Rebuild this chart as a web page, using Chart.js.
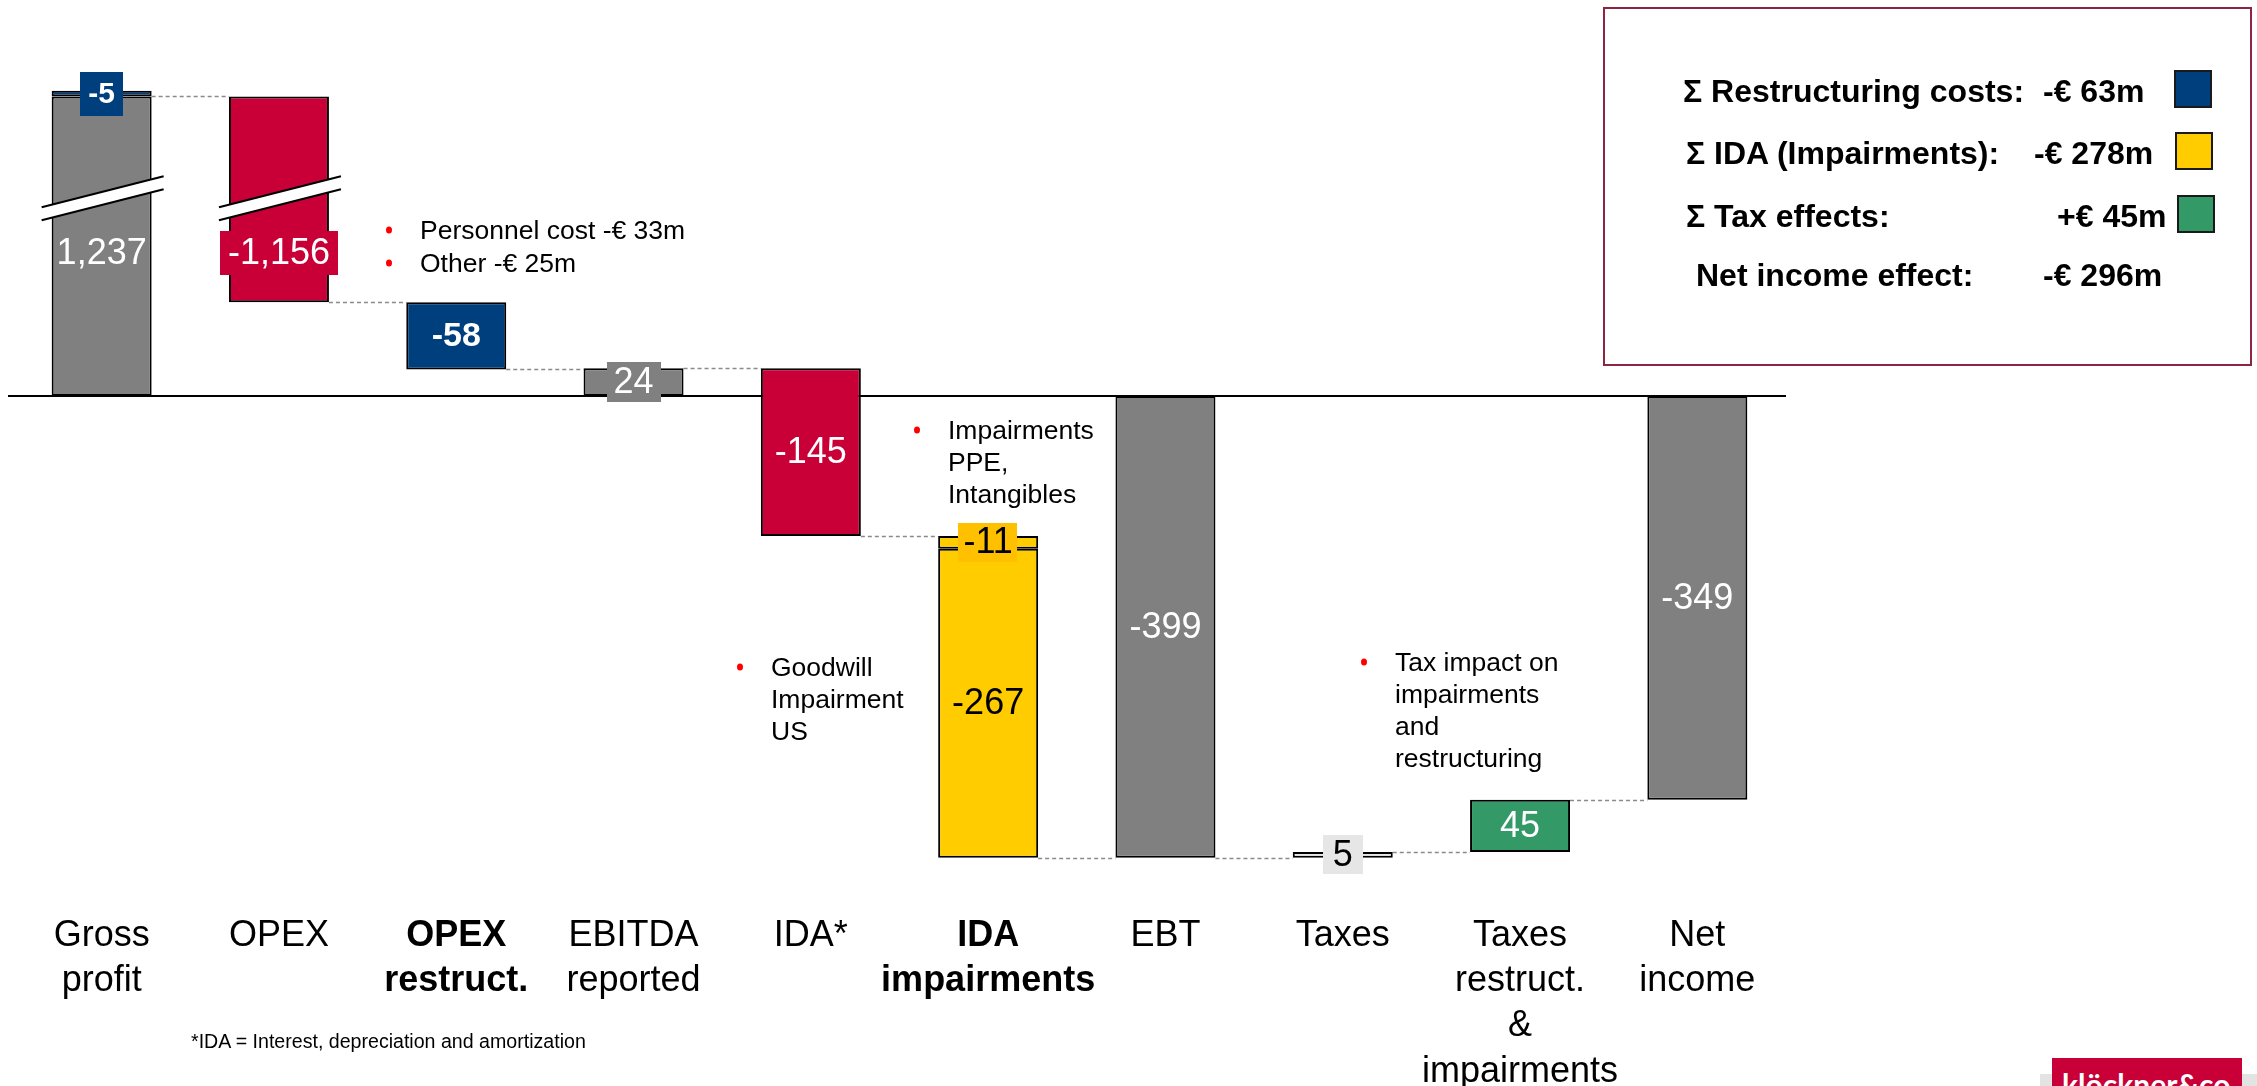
<!DOCTYPE html>
<html>
<head>
<meta charset="utf-8">
<title>Net income bridge</title>
<script src="https://cdn.jsdelivr.net/npm/chart.js@4.4.1/dist/chart.umd.min.js"></script>
<style>
  html, body { margin: 0; padding: 0; background: #ffffff; overflow: hidden; }
  #wrap { position: relative; width: 2257px; height: 1086px; font-family: "Liberation Sans", Arial, sans-serif; }
  #chart { position: absolute; left: 0; top: 0; }
  #summary { position: absolute; left: 1603px; top: 7px; width: 649px; height: 359px; border: 2px solid #8E2444; box-sizing: border-box; }
  #summary .lbl, #summary .val { position: absolute; font-weight: bold; font-size: 32px; color: #000; white-space: nowrap; line-height: 1; transform: translateY(-50%); }
  #summary .sw { position: absolute; width: 38px; height: 38px; border: 2px solid #1a1a1a; box-sizing: border-box; }
  #footnote { position: absolute; left: 191px; top: 1041px; transform: translateY(-50%); font-size: 19.6px; color: #000; white-space: nowrap; }
  #logo-strip { position: absolute; left: 2040px; top: 1074px; width: 217px; height: 12px; background: #E3E3E3; }
  #logo { position: absolute; left: 2052px; top: 1058px; width: 190px; height: 40px; background: #C80037; box-sizing: border-box; overflow: hidden; }
  #logo span { position: absolute; left: 10px; top: 11px; color: #fff; font-family: Lato, "Open Sans", sans-serif; font-weight: bold; font-size: 30px; line-height: 1; white-space: nowrap; }
</style>
</head>
<body>
<div id="wrap">
  <canvas id="chart" width="2257" height="1086"></canvas>
  <div id="summary"></div>
  <div id="footnote">*IDA = Interest, depreciation and amortization</div>
  <div id="logo-strip"></div>
  <div id="logo"><span id="logo-text">klöckner&amp;co</span></div>
</div>
<script>
// ---- data -------------------------------------------------------------
const categories = [
  ['Gross', 'profit'], 'OPEX', ['OPEX', 'restruct.'], ['EBITDA', 'reported'], 'IDA*',
  ['IDA', 'impairments'], 'EBT', 'Taxes', ['Taxes', 'restruct.', '&', 'impairments'], ['Net', 'income']
];
// value of each step (totals are absolute levels, the rest are changes), EUR m
const stepValues = [1237, -1156, -58, 24, -145, -267, -399, 5, 45, -349];
const isTotal    = [true, false, false, true, false, false, true, false, false, true];
// separately shown portion inside a step (restructuring in gross profit, impairments PPE/intangibles)
const subValues  = [-5, null, null, null, null, -11, null, null, null, null];
const boldCategories = [2, 5];

const summaryLabels = ['Σ Restructuring costs:', 'Σ IDA (Impairments):', 'Σ Tax effects:', 'Net income effect:'];
const summaryValues = ['-€ 63m', '-€ 278m', '+€ 45m', '-€ 296m'];

const notes = [
  { lines: ['Personnel cost -€ 33m'] },
  { lines: ['Other -€ 25m'] },
  { lines: ['Impairments', 'PPE,', 'Intangibles'] },
  { lines: ['Goodwill', 'Impairment', 'US'] },
  { lines: ['Tax impact on', 'impairments', 'and', 'restructuring'] }
];

// ---- styling ----------------------------------------------------------
const FONT = '"Liberation Sans", Arial, sans-serif';
const GREY = '#808080', RED = '#C80037', BLUE = '#003F7E', YELLOW = '#FFCC00', GREEN = '#339966', LIGHT = '#E6E6E6';
const barColors = [GREY, RED, BLUE, GREY, RED, YELLOW, GREY, LIGHT, GREEN, GREY];
const subColors = [BLUE, null, null, null, null, YELLOW, null, null, null, null];
const summaryColors = [BLUE, YELLOW, GREEN, null];

// label look per step: text colour, optional box colour, weight, size
const barLabelStyle = [
  { color: '#fff', size: 36 },
  { color: '#fff', size: 36, box: RED, padX: 8, boxH: 44 },
  { color: '#fff', size: 34, bold: true },
  { color: '#fff', size: 36, box: GREY, padX: 7, boxH: 40 },
  { color: '#fff', size: 36 },
  { color: '#000', size: 36 },
  { color: '#fff', size: 36 },
  { color: '#000', size: 36, box: LIGHT, padX: 10, boxH: 39 },
  { color: '#fff', size: 36 },
  { color: '#fff', size: 36 }
];
const subLabelStyle = [
  { color: '#fff', size: 30, bold: true, box: BLUE, padX: 8, boxH: 44 },
  null, null, null, null,
  { color: '#000', size: 36, box: '#FFC000', padX: 5, boxH: 39 },
  null, null, null, null
];

// axis break: the part of the axis between BREAK_AT and BREAK_AT + BREAK_GAP is cut out
const BREAK_AT = 171;
const BREAK_GAP = 978;
const BROKEN_LABEL_AT = 124;   // axis level where labels of broken bars sit
const toAxis = v => (v > BREAK_AT + BREAK_GAP ? v - BREAK_GAP : v);

// note placement (pixels)
const notePos = [
  { bx: 389, tx: 420, y: 232 },
  { bx: 389, tx: 420, y: 265 },
  { bx: 917, tx: 948, y: 432 },
  { bx: 740, tx: 771, y: 669 },
  { bx: 1364, tx: 1395, y: 664 }
];
const NOTE_LINE = 32;

// ---- waterfall spans --------------------------------------------------
const mainSpans = [], subSpans = [], runEnd = [];
let run = 0;
stepValues.forEach((v, i) => {
  const s = subValues[i];
  if (isTotal[i]) {
    mainSpans.push([0, v]);
    subSpans.push(s == null ? null : [v - s, v]);   // amount already deducted, shown on top of the total
    run = v;
  } else {
    if (s != null) { subSpans.push([run, run + s]); run += s; } else subSpans.push(null);
    mainSpans.push([run, run + v]);
    run += v;
  }
  runEnd.push(run);
});
const axisSpan = sp => (sp ? [toAxis(sp[0]), toAxis(sp[1])] : null);

const fmt = v => (v < 0 ? '-' : '') + Math.abs(v).toLocaleString('en-US');

function drawTag(ctx, text, cx, cy, st) {
  ctx.font = (st.bold ? 'bold ' : '') + st.size + 'px ' + FONT;
  const w = ctx.measureText(text).width;
  if (st.box) {
    const bw = w + 2 * st.padX;
    ctx.fillStyle = st.box;
    ctx.fillRect(Math.round(cx - bw / 2), Math.round(cy - st.boxH / 2), Math.round(bw), st.boxH);
  }
  ctx.fillStyle = st.color;
  ctx.textAlign = 'center';
  ctx.textBaseline = 'middle';
  ctx.fillText(text, cx, cy + 1);
}

const bridgeDecor = {
  id: 'bridgeDecor',
  beforeDatasetsDraw(chart) {
    const { ctx, chartArea, scales: { y } } = chart;
    const main = chart.getDatasetMeta(0).data;
    ctx.save();
    // zero line
    const y0 = Math.round(y.getPixelForValue(0));
    ctx.strokeStyle = '#000';
    ctx.lineWidth = 2;
    ctx.beginPath();
    ctx.moveTo(chartArea.left - 5, y0);
    ctx.lineTo(chartArea.right, y0);
    ctx.stroke();
    // dashed connectors between consecutive steps
    ctx.strokeStyle = '#8a8a8a';
    ctx.lineWidth = 1.5;
    ctx.setLineDash([4, 3]);
    for (let i = 0; i < main.length - 1; i++) {
      const a = main[i], b = main[i + 1];
      const yy = Math.round(y.getPixelForValue(toAxis(runEnd[i]))) + 0.5;
      ctx.beginPath();
      ctx.moveTo(a.x + a.width / 2, yy);
      ctx.lineTo(b.x - b.width / 2, yy);
      ctx.stroke();
    }
    ctx.restore();
  },
  afterDatasetsDraw(chart) {
    const { ctx, scales: { y } } = chart;
    const main = chart.getDatasetMeta(0).data;
    const sub = chart.getDatasetMeta(1).data;
    ctx.save();
    // break marks on bars crossing the cut
    mainSpans.forEach((sp, i) => {
      const lo = Math.min(sp[0], sp[1]), hi = Math.max(sp[0], sp[1]);
      if (!(lo < BREAK_AT && hi > BREAK_AT + BREAK_GAP)) return;
      const bar = main[i];
      const xl = bar.x - bar.width / 2 - 10, xr = bar.x + bar.width / 2 + 12;
      const yc = y.getPixelForValue(BREAK_AT);
      const rise = 31 * 0.5, half = 6.5;
      const cxm = (xl + xr) / 2;
      const yAt = (xx, off) => yc + off + rise * (cxm - xx) / ((xr - xl) / 2);
      ctx.fillStyle = '#fff';
      ctx.beginPath();
      ctx.moveTo(xl, yAt(xl, -half)); ctx.lineTo(xr, yAt(xr, -half));
      ctx.lineTo(xr, yAt(xr, half)); ctx.lineTo(xl, yAt(xl, half));
      ctx.closePath();
      ctx.fill();
      ctx.strokeStyle = '#000';
      ctx.lineWidth = 2;
      [-half, half].forEach(off => {
        ctx.beginPath();
        ctx.moveTo(xl, yAt(xl, off));
        ctx.lineTo(xr, yAt(xr, off));
        ctx.stroke();
      });
    });
    // value labels
    stepValues.forEach((v, i) => {
      const sp = mainSpans[i];
      const lo = Math.min(sp[0], sp[1]), hi = Math.max(sp[0], sp[1]);
      const broken = lo < BREAK_AT && hi > BREAK_AT + BREAK_GAP;
      const a = axisSpan(sp);
      const cy = broken ? y.getPixelForValue(BROKEN_LABEL_AT) : y.getPixelForValue((a[0] + a[1]) / 2);
      drawTag(ctx, fmt(v), main[i].x, cy, barLabelStyle[i]);
      if (subValues[i] != null) {
        const s = axisSpan(subSpans[i]);
        drawTag(ctx, fmt(subValues[i]), sub[i].x, y.getPixelForValue((s[0] + s[1]) / 2), subLabelStyle[i]);
      }
    });
    // bullet notes
    notes.forEach((n, k) => {
      const p = notePos[k];
      ctx.fillStyle = '#FF0000';
      ctx.beginPath();
      ctx.ellipse(p.bx, p.y - 2, 3, 3.5, 0, 0, Math.PI * 2);
      ctx.fill();
      ctx.fillStyle = '#000';
      ctx.font = '26.5px ' + FONT;
      ctx.textAlign = 'left';
      ctx.textBaseline = 'middle';
      n.lines.forEach((t, j) => ctx.fillText(t, p.tx, p.y + j * NOTE_LINE));
    });
    ctx.restore();
  }
};

new Chart(document.getElementById('chart'), {
  type: 'bar',
  data: {
    labels: categories,
    datasets: [
      {
        label: 'Steps',
        data: mainSpans.map(axisSpan),
        backgroundColor: barColors,
        borderColor: '#000',
        borderWidth: 2,
        borderSkipped: false,
        grouped: false,
        order: 1
      },
      {
        label: 'Restructuring / impairment parts',
        data: subSpans.map(axisSpan),
        backgroundColor: subColors.map(c => c || 'rgba(0,0,0,0)'),
        borderColor: '#000',
        borderWidth: 2,
        borderSkipped: false,
        grouped: false,
        order: 0
      }
    ]
  },
  options: {
    responsive: false,
    animation: false,
    events: [],
    layout: { padding: { left: 13, right: 471, top: 49, bottom: 0 } },
    datasets: { bar: { barPercentage: 1, categoryPercentage: 0.564 } },
    plugins: { legend: { display: false }, tooltip: { enabled: false } },
    scales: {
      x: {
        grid: { display: false, drawTicks: false },
        border: { display: false },
        ticks: {
          color: '#000',
          padding: 31,
          maxRotation: 0,
          autoSkip: false,
          font: c => ({ family: FONT, size: 36, lineHeight: 1.26, weight: boldCategories.includes(c.index) ? 'bold' : 'normal' })
        },
        afterFit: s => { s.height = 204; }
      },
      y: { display: false, min: -420, max: 300 }
    }
  },
  plugins: [bridgeDecor]
});

// summary box
const box = document.getElementById('summary');
const rowY = [82, 144, 207, 266];
const lblX = [78, 81, 81, 91];
const valX = [438, 429, 452, 438];
const swX = [569, 570, 572];
summaryLabels.forEach((t, i) => {
  const l = document.createElement('div');
  l.className = 'lbl'; l.textContent = t;
  l.style.left = lblX[i] + 'px'; l.style.top = rowY[i] + 'px';
  box.appendChild(l);
  const v = document.createElement('div');
  v.className = 'val'; v.textContent = summaryValues[i];
  v.style.left = valX[i] + 'px'; v.style.top = rowY[i] + 'px';
  box.appendChild(v);
  if (summaryColors[i]) {
    const s = document.createElement('div');
    s.className = 'sw';
    s.style.background = summaryColors[i];
    s.style.left = swX[i] + 'px'; s.style.top = (rowY[i] - 21) + 'px';
    box.appendChild(s);
  }
});

// fit the wordmark into its red box
const logoText = document.getElementById('logo-text');
const logoWidth = logoText.getBoundingClientRect().width;
if (logoWidth > 170) logoText.style.fontSize = (30 * 170 / logoWidth).toFixed(1) + 'px';
</script>
</body>
</html>
